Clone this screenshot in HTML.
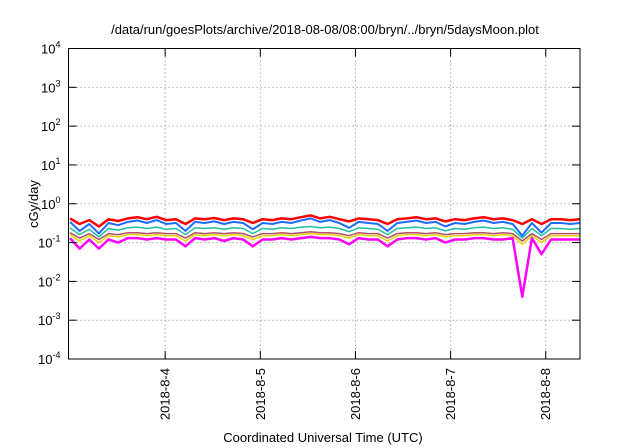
<!DOCTYPE html>
<html><head><meta charset="utf-8"><style>
html,body{margin:0;padding:0;background:#fff;}
svg{display:block;font-family:"Liberation Sans",sans-serif;}
</style></head><body>
<svg id="chart" width="640" height="448" viewBox="0 0 640 448">
<text x="325" y="34" font-size="13" text-anchor="middle" fill="#000">/data/run/goesPlots/archive/2018-08-08/08:00/bryn/../bryn/5daysMoon.plot</text>
<g id="grid"></g>
<g id="series"></g>
<rect x="68.5" y="48.5" width="511.5" height="310.5" fill="none" stroke="#000" stroke-width="1"/>
<g id="axes"></g>
<text transform="translate(38,204) rotate(-90)" font-size="13" text-anchor="middle">cGy/day</text>
<text x="323" y="442" font-size="13" text-anchor="middle">Coordinated Universal Time (UTC)</text>
</svg>
<script>
const yTickExps = [4,3,2,1,0,-1,-2,-3,-4];
const xTickDays = [1,2,3,4,5];
const xTickLabels = ["2018-8-4","2018-8-5","2018-8-6","2018-8-7","2018-8-8"];
const timeSpanDays = 5.36;
const red = [0.42,0.30,0.38,0.26,0.40,0.36, 0.42,0.45,0.40,0.46,0.38,0.40, 0.30,0.42,0.40,0.43,0.38,0.42, 0.40,0.32,0.40,0.38,0.42,0.40, 0.45,0.50,0.42,0.46,0.40,0.35, 0.42,0.40,0.38,0.30,0.40,0.42, 0.45,0.40,0.42,0.35,0.40,0.38, 0.42,0.45,0.40,0.42,0.38,0.30, 0.40,0.30,0.40,0.40,0.38,0.40];
const blue = [0.34,0.20,0.30,0.17,0.32,0.28, 0.34,0.37,0.32,0.38,0.30,0.32, 0.20,0.34,0.32,0.35,0.30,0.34, 0.32,0.22,0.32,0.30,0.34,0.32, 0.37,0.42,0.34,0.38,0.32,0.24, 0.34,0.32,0.30,0.20,0.32,0.34, 0.37,0.32,0.34,0.26,0.32,0.30, 0.34,0.37,0.32,0.34,0.30,0.15, 0.32,0.18,0.32,0.32,0.30,0.32];
const teal = [0.24,0.16,0.22,0.14,0.23,0.21, 0.24,0.25,0.23,0.25,0.22,0.23, 0.16,0.24,0.23,0.24,0.22,0.24, 0.23,0.17,0.23,0.22,0.24,0.23, 0.25,0.26,0.24,0.25,0.23,0.19, 0.24,0.23,0.22,0.16,0.23,0.24, 0.25,0.23,0.24,0.20,0.23,0.22, 0.24,0.25,0.23,0.24,0.22,0.13, 0.23,0.15,0.23,0.23,0.22,0.23];
const brown = [0.18,0.13,0.17,0.12,0.17,0.16, 0.18,0.18,0.17,0.18,0.17,0.17, 0.13,0.18,0.17,0.18,0.17,0.18, 0.17,0.14,0.17,0.17,0.18,0.17, 0.18,0.19,0.18,0.18,0.17,0.15, 0.18,0.17,0.17,0.13,0.17,0.18, 0.18,0.17,0.18,0.16,0.17,0.17, 0.18,0.18,0.17,0.18,0.17,0.11, 0.17,0.12,0.17,0.17,0.17,0.17];
const yellow = [0.16,0.11,0.15,0.10,0.15,0.14, 0.16,0.16,0.15,0.16,0.15,0.15, 0.11,0.16,0.15,0.16,0.15,0.16, 0.15,0.12,0.15,0.15,0.16,0.15, 0.16,0.17,0.16,0.16,0.15,0.13, 0.16,0.15,0.15,0.11,0.15,0.16, 0.16,0.15,0.16,0.14,0.15,0.15, 0.16,0.16,0.15,0.16,0.15,0.09, 0.15,0.10,0.15,0.15,0.15,0.15];
const magenta = [0.13,0.07,0.12,0.07,0.12,0.10, 0.13,0.13,0.12,0.13,0.12,0.12, 0.08,0.13,0.12,0.13,0.11,0.13, 0.12,0.08,0.12,0.12,0.13,0.12, 0.13,0.14,0.13,0.13,0.12,0.09, 0.13,0.12,0.12,0.08,0.12,0.13, 0.13,0.12,0.13,0.10,0.12,0.12, 0.13,0.13,0.12,0.12,0.13,0.004, 0.13,0.05,0.12,0.12,0.12,0.12];

const L=68.5,R=580,T=48.5,B=359;
const tMin=-0.016,tMax=5.36;
function xs(t){return L+(t-tMin)/(tMax-tMin)*(R-L);}
function ys(v){return T+(4-Math.log10(v))/8*(B-T);}
const NS="http://www.w3.org/2000/svg";
function mk(tag,attrs,parent){const e=document.createElementNS(NS,tag);for(const k in attrs)e.setAttribute(k,attrs[k]);parent.appendChild(e);return e;}
const grid=document.getElementById('grid'),axes=document.getElementById('axes'),sg=document.getElementById('series');
yTickExps.forEach(function(ex){
  const y=ys(Math.pow(10,ex));
  if(ex<4&&ex>-4){const g=mk('line',{x1:L,x2:R,y1:y,y2:y,stroke:'#aaa','stroke-dasharray':'1.5,2.5','stroke-width':1},grid);
  
  }
  const t1=mk('line',{x1:L,x2:L+8,y1:y,y2:y,stroke:'#000'},axes);
  
  
  const t2=mk('line',{x1:R-8,x2:R,y1:y,y2:y,stroke:'#000'},axes);
  
  
  const tx=mk('text',{x:L-8,y:y+5,'font-size':13,'text-anchor':'end'},axes);
  
  
  tx.appendChild(document.createTextNode('10'));
  const sp=mk('tspan',{dy:-6,'font-size':9},tx);sp.textContent=String(ex);
});
xTickDays.forEach(function(d,i){
  const x=xs(d);
  const g=mk('line',{x1:x,x2:x,y1:T,y2:B,stroke:'#aaa','stroke-dasharray':'1.5,2.5','stroke-width':1},grid);
  
  
  const t1=mk('line',{x1:x,x2:x,y1:B-8,y2:B,stroke:'#000'},axes);
  
  
  const t2=mk('line',{x1:x,x2:x,y1:T,y2:T+8,stroke:'#000'},axes);
  
  
  const tx=mk('text',{transform:'translate('+(x+4.5)+','+(B+9)+') rotate(-90)','font-size':13,'text-anchor':'end'},axes);
  
  
  tx.textContent=xTickLabels[i];
});
const seriesList=[[magenta,'#ff00ff',2.5,'magenta-series'],[yellow,'#e8d400',1.5,'yellow-series'],[brown,'#b0506a',1.5,'brown-series'],[teal,'#20c0a0',1.5,'teal-series'],[red,'#ff0000',2.5,'red-series'],[blue,'#1e6cff',2,'blue-series']];
seriesList.forEach(function(s){
  const arr=s[0],n=arr.length;
  let d='';
  arr.forEach(function(v,i){const t=i*timeSpanDays/(n-1);d+=(i?'L':'M')+xs(t).toFixed(1)+','+ys(v).toFixed(1);});
  const p=mk('path',{d:d,fill:'none',stroke:s[1],'stroke-width':s[2],'stroke-linejoin':'round'},sg);
  
  
});
</script>
</body></html>
